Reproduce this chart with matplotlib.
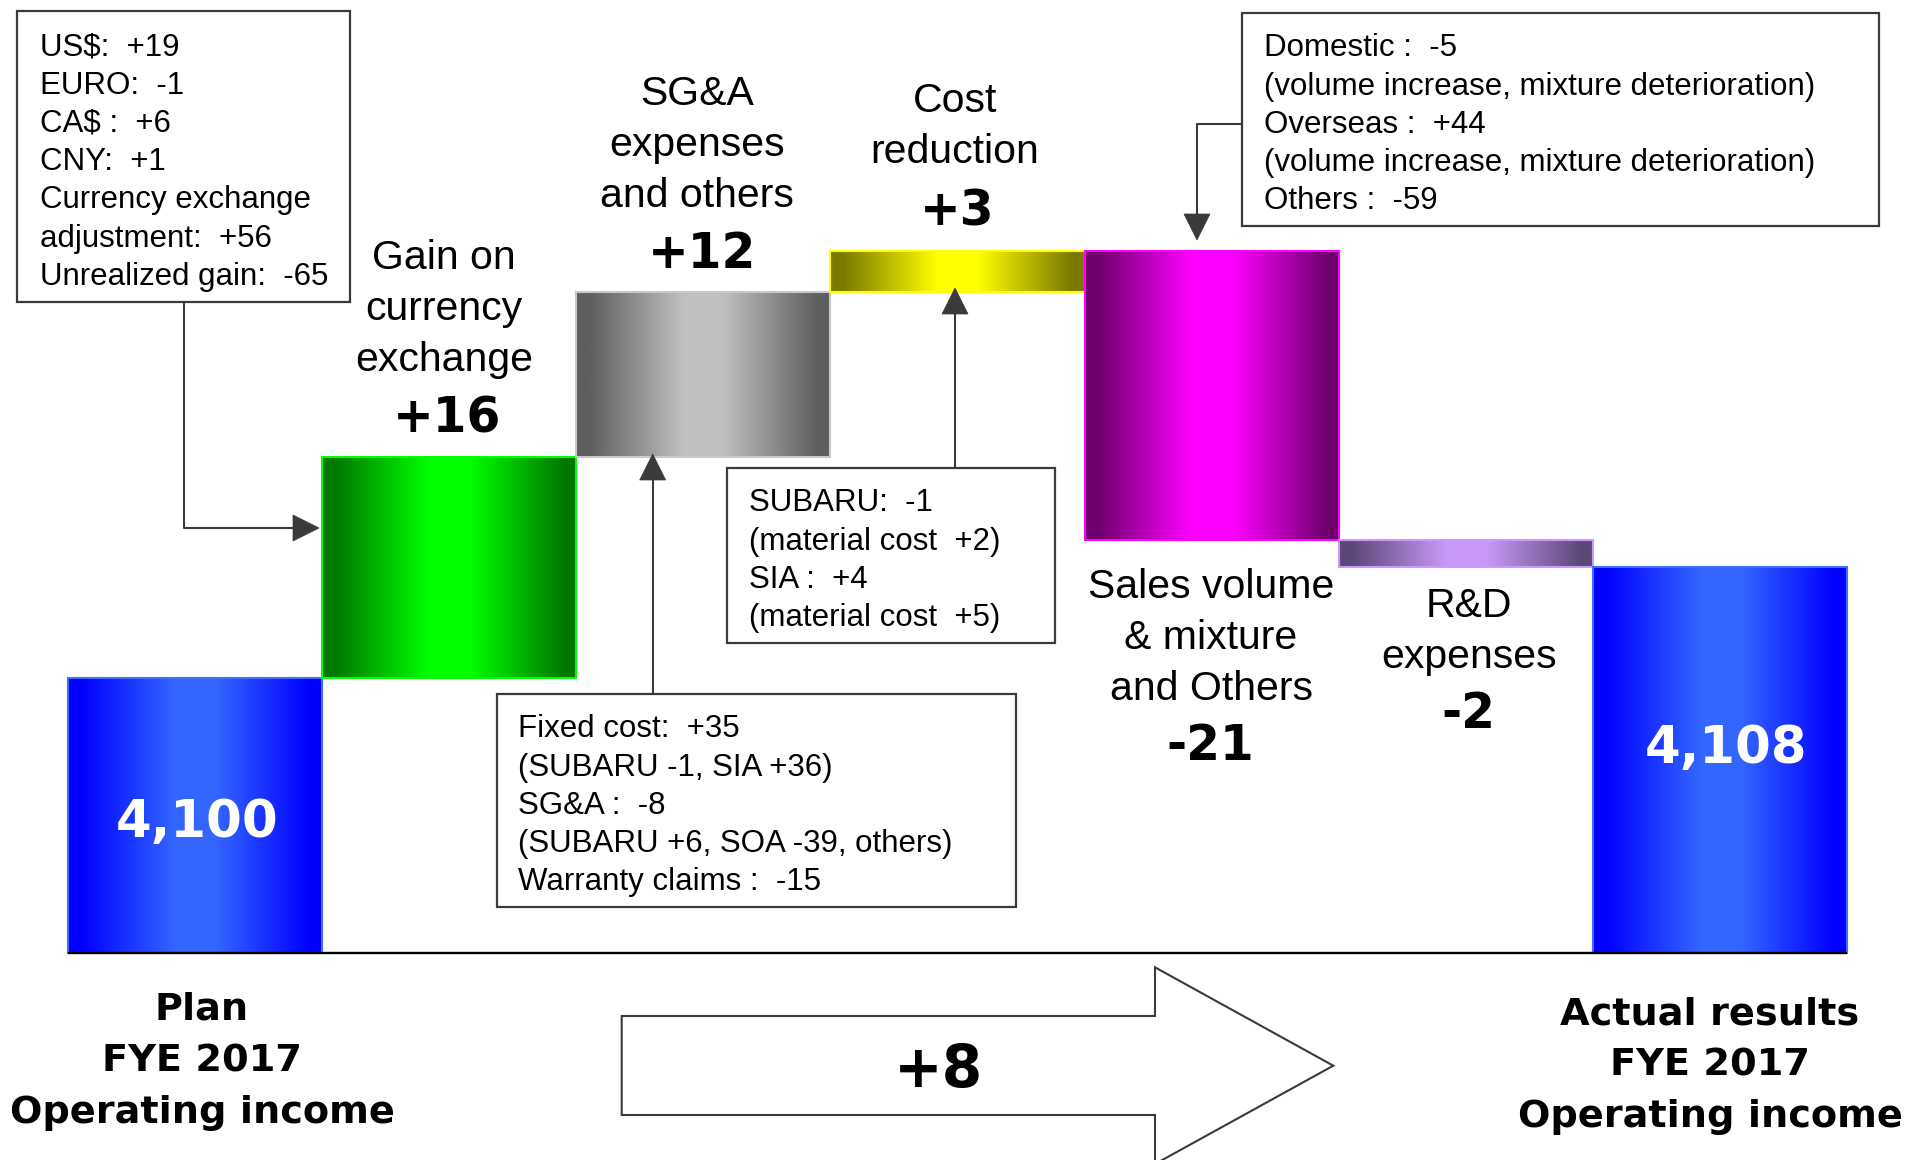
import numpy as np
import matplotlib.pyplot as plt
from matplotlib.patches import Rectangle, Polygon
from matplotlib.colors import to_rgb

# Operating income bridge, plan vs. actual (100 million yen)
categories = ["Plan\nFYE 2017\nOperating income",
              "Gain on\ncurrency\nexchange",
              "SG&A\nexpenses\nand others",
              "Cost\nreduction",
              "Sales volume\n& mixture\nand Others",
              "R&D\nexpenses",
              "Actual results\nFYE 2017\nOperating income"]
plan_income = 4100
changes = [16, 12, 3, -21, -2]
actual_income = 4108
axis_floor = 4080   # value axis starts here

fx_notes = ["US$:  +19", "EURO:  -1", "CA$ :  +6", "CNY:  +1",
            "Currency exchange", "adjustment:  +56", "Unrealized gain:  -65"]
sga_notes = ["Fixed cost:  +35", "(SUBARU -1, SIA +36)", "SG&A :  -8",
             "(SUBARU +6, SOA -39, others)", "Warranty claims :  -15"]
cost_notes = ["SUBARU:  -1", "(material cost  +2)", "SIA :  +4",
              "(material cost  +5)"]
sales_notes = ["Domestic :  -5", "(volume increase, mixture deterioration)",
               "Overseas :  +44", "(volume increase, mixture deterioration)",
               "Others :  -59"]

# (edge shade, centre shade, outline) per bar
bar_styles = [("#0000ff", "#3366ff", "#3f6fff"),
              ("#007800", "#00ff00", "#00ff00"),
              ("#5e5e5e", "#c0c0c0", "#c8c8c8"),
              ("#7a7a00", "#ffff00", "#ffff00"),
              ("#6e006e", "#ff00ff", "#ff00ff"),
              ("#5c4878", "#c899f8", "#cc99ff"),
              ("#0000ff", "#3366ff", "#3f6fff")]

W, H, DPI = 1907, 1160, 100
fig = plt.figure(figsize=(W / DPI, H / DPI), dpi=DPI)
fig.patch.set_facecolor("white")

# bars live in data coordinates
ax = fig.add_axes([0, 0, 1, 1])
ax.axis("off")


def gradient_bar(x, y0, y1, dark, light, edge):
    lo, hi = min(y0, y1), max(y0, y1)
    stops = [0, 0.05, 0.42, 0.58, 0.95, 1]
    cols = np.array([to_rgb(c) for c in [dark, dark, light, light, dark, dark]])
    t = np.linspace(0, 1, 256)
    img = np.stack([np.interp(t, stops, cols[:, k]) for k in range(3)], axis=-1)[None]
    ax.imshow(img, extent=[x - 0.5, x + 0.5, lo, hi], aspect="auto",
              interpolation="bilinear", zorder=2)
    ax.add_patch(Rectangle((x - 0.5, lo), 1, hi - lo, fill=False, ec=edge,
                           lw=1.5, zorder=3))


levels = np.concatenate([[plan_income], plan_income + np.cumsum(changes)])
gradient_bar(0, axis_floor, plan_income, *bar_styles[0])
for i, v in enumerate(changes, start=1):
    gradient_bar(i, levels[i - 1], levels[i], *bar_styles[i])
gradient_bar(len(categories) - 1, axis_floor, actual_income, *bar_styles[-1])

ax.plot([-0.5, len(categories) - 0.5], [axis_floor, axis_floor], color="black",
        lw=1.7, solid_capstyle="butt", zorder=4)

# map the bar axis so that one category is 254 px and one unit is 13.78 px
px_x, px_y = 254.06, 13.78
ax.set_xlim(-0.5 - 68.3 / px_x, -0.5 + (W - 68.3) / px_x)
ax.set_ylim(axis_floor - (H - 953.3) / px_y, axis_floor + 953.3 / px_y)

# overlay in pixel coordinates for labels and callouts
ov = fig.add_axes([0, 0, 1, 1], zorder=5)
ov.set_xlim(0, W)
ov.set_ylim(H, 0)
ov.axis("off")

LINE = "#3a3a3a"


def put(x, y, s, size, bold=False, ha="center", color="black"):
    fam = "DejaVu Sans" if bold else "Liberation Sans"
    ov.text(x, y + 0.36 * size * DPI / 72, s, fontsize=size, family=fam,
            fontweight="bold" if bold else "normal", ha=ha, va="baseline",
            color=color)


def stack(x, y, lines, step, size, bold=False, ha="center"):
    for k, s in enumerate(lines):
        put(x, y + k * step, s, size, bold=bold, ha=ha)


def callout(x0, y0, x1, y1, lines, tx, ty):
    ov.add_patch(Rectangle((x0, y0), x1 - x0, y1 - y0, fc="white", ec=LINE, lw=1.6))
    stack(tx, ty, lines, 38.3, 22.5, ha="left")


def leader(xs, ys, tip, direction):
    ov.plot(xs, ys, color=LINE, lw=1.5, solid_capstyle="butt")
    tx, ty = tip
    L, h = 26, 13
    if direction == "right":
        pts = [(tx, ty), (tx - L, ty - h), (tx - L, ty + h)]
    elif direction == "up":
        pts = [(tx, ty), (tx - h, ty + L), (tx + h, ty + L)]
    else:
        pts = [(tx, ty), (tx - h, ty - L), (tx + h, ty - L)]
    ov.add_patch(Polygon(pts, closed=True, fc=LINE, ec=LINE, lw=0.5))


# category labels and change values
cat_lines = [c.split("\n") for c in categories]
stack(444, 254, cat_lines[1], 51, 29.5)
stack(697, 90, cat_lines[2], 51, 29.5)
stack(955, 97, cat_lines[3], 51, 29.5)
stack(1211, 583, cat_lines[4], 51, 29.5)
stack(1469, 602, cat_lines[5], 51, 29.5)
value_pos = [(447, 415), (702, 250), (957, 208), (1210, 742), (1468, 711)]
for v, (x, y) in zip(changes, value_pos):
    put(x, y, f"{v:+d}", 35, bold=True)

stack(202, 1006, cat_lines[0], 51.5, 27.5, bold=True)
stack(1710, 1011, cat_lines[-1], 51, 27.5, bold=True)
put(197, 818, f"{plan_income:,}", 37, bold=True, color="white")
put(1726, 744, f"{actual_income:,}", 37, bold=True, color="white")

# callout boxes with leaders
callout(17, 11, 350, 302, fx_notes, 40, 44)
leader([183.5, 183.5, 294], [302, 528, 528], (319, 528), "right")

callout(497, 694, 1015.5, 907, sga_notes, 518, 726)
leader([652.7, 652.7], [694, 478], (652.7, 454), "up")

callout(727, 468, 1054.5, 643, cost_notes, 749, 500)
leader([955, 955], [468, 312], (955, 288), "up")

callout(1242, 13, 1879, 226, sales_notes, 1264, 45)
leader([1242, 1197, 1197], [124, 124, 216], (1197, 240), "down")

# total change arrow
arrow = [(621.7, 1016), (1155, 1016), (1155, 967.3), (1333.3, 1065.7),
         (1155, 1164), (1155, 1115), (621.7, 1115)]
ov.add_patch(Polygon(arrow, closed=True, fc="white", ec=LINE, lw=1.5, clip_on=False))
put(938, 1066, f"{actual_income - plan_income:+d}", 42, bold=True)

fig.savefig("out.png", dpi=DPI, facecolor="white")
